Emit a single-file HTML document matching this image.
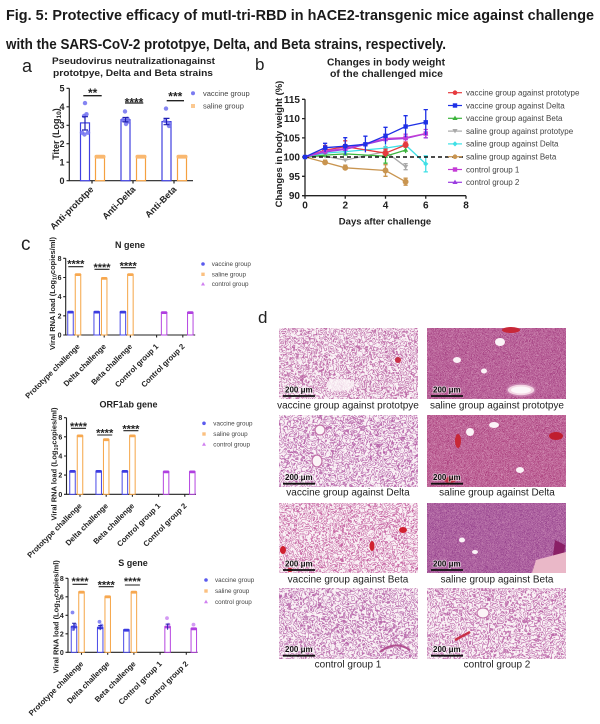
<!DOCTYPE html>
<html><head><meta charset="utf-8">
<style>
html,body{margin:0;padding:0;background:#fff;}
svg{display:block;font-family:"Liberation Sans",Arial,sans-serif;}
</style></head><body>
<svg width="600" height="724" viewBox="0 0 600 724" xmlns="http://www.w3.org/2000/svg">
<defs>
 <filter id="fv1" x="0" y="0" width="1" height="1" color-interpolation-filters="sRGB">
  <feTurbulence type="fractalNoise" baseFrequency="0.13" numOctaves="3" seed="3"/>
  <feColorMatrix type="matrix" values="0 0 0 0 0.70 0 0 0 0 0.32 0 0 0 0 0.60 1 0 0 0 0"/>
  <feComponentTransfer><feFuncA type="table" tableValues="0 .95 0 0 .95 0 0 .95 0 0 .95 0 0 .95 0 0 .95 0 0"/></feComponentTransfer>
 </filter>
 <filter id="fv2" x="0" y="0" width="1" height="1" color-interpolation-filters="sRGB">
  <feTurbulence type="fractalNoise" baseFrequency="0.12" numOctaves="3" seed="11"/>
  <feColorMatrix type="matrix" values="0 0 0 0 0.68 0 0 0 0 0.31 0 0 0 0 0.62 1 0 0 0 0"/>
  <feComponentTransfer><feFuncA type="table" tableValues="0 .95 0 0 .95 0 0 .95 0 0 .95 0 0 .95 0 0 .95 0 0"/></feComponentTransfer>
 </filter>
 <filter id="fv3" x="0" y="0" width="1" height="1" color-interpolation-filters="sRGB">
  <feTurbulence type="fractalNoise" baseFrequency="0.13" numOctaves="3" seed="23"/>
  <feColorMatrix type="matrix" values="0 0 0 0 0.74 0 0 0 0 0.30 0 0 0 0 0.58 1 0 0 0 0"/>
  <feComponentTransfer><feFuncA type="table" tableValues="0 .95 0 0 .95 0 0 .95 0 0 .95 0 0 .95 0 0 .95 0 0"/></feComponentTransfer>
 </filter>
 <filter id="fv4" x="0" y="0" width="1" height="1" color-interpolation-filters="sRGB">
  <feTurbulence type="fractalNoise" baseFrequency="0.12" numOctaves="3" seed="37"/>
  <feColorMatrix type="matrix" values="0 0 0 0 0.68 0 0 0 0 0.32 0 0 0 0 0.62 1 0 0 0 0"/>
  <feComponentTransfer><feFuncA type="table" tableValues="0 .95 0 0 .95 0 0 .95 0 0 .95 0 0 .95 0 0 .95 0 0"/></feComponentTransfer>
 </filter>
 <filter id="fv5" x="0" y="0" width="1" height="1" color-interpolation-filters="sRGB">
  <feTurbulence type="fractalNoise" baseFrequency="0.12" numOctaves="3" seed="41"/>
  <feColorMatrix type="matrix" values="0 0 0 0 0.70 0 0 0 0 0.32 0 0 0 0 0.61 1 0 0 0 0"/>
  <feComponentTransfer><feFuncA type="table" tableValues="0 .95 0 0 .95 0 0 .95 0 0 .95 0 0 .95 0 0 .95 0 0"/></feComponentTransfer>
 </filter>
 <filter id="fs1" x="0" y="0" width="1" height="1" color-interpolation-filters="sRGB">
  <feTurbulence type="fractalNoise" baseFrequency="0.2" numOctaves="3" seed="5"/>
  <feColorMatrix type="matrix" values="0 0 0 0 0.64 0 0 0 0 0.24 0 0 0 0 0.50 1 0 0 0 0"/>
  <feComponentTransfer><feFuncA type="table" tableValues=".35 1 .35 1 .35 1 .35 1 .35 1 .35 1 .35 1 .35 1 .35"/></feComponentTransfer>
 </filter>
 <filter id="fs2" x="0" y="0" width="1" height="1" color-interpolation-filters="sRGB">
  <feTurbulence type="fractalNoise" baseFrequency="0.2" numOctaves="3" seed="17"/>
  <feColorMatrix type="matrix" values="0 0 0 0 0.66 0 0 0 0 0.23 0 0 0 0 0.48 1 0 0 0 0"/>
  <feComponentTransfer><feFuncA type="table" tableValues=".3 1 .3 1 .3 1 .3 1 .3 1 .3 1 .3 1 .3 1 .3"/></feComponentTransfer>
 </filter>
 <filter id="fs3" x="0" y="0" width="1" height="1" color-interpolation-filters="sRGB">
  <feTurbulence type="fractalNoise" baseFrequency="0.22" numOctaves="3" seed="29"/>
  <feColorMatrix type="matrix" values="0 0 0 0 0.58 0 0 0 0 0.25 0 0 0 0 0.55 1 0 0 0 0"/>
  <feComponentTransfer><feFuncA type="table" tableValues=".4 1 .4 1 .4 1 .4 1 .4 1 .4 1 .4 1 .4 1 .4"/></feComponentTransfer>
 </filter>
</defs>
<rect width="600" height="724" fill="#fff"/>

<!-- Main title -->
<g font-weight="bold" font-size="15" fill="#1a1a1a">
 <text x="6" y="20" textLength="588" lengthAdjust="spacingAndGlyphs">Fig. 5: Protective efficacy of mutI-tri-RBD in hACE2-transgenic mice against challenge</text>
 <text x="6" y="49" textLength="440" lengthAdjust="spacingAndGlyphs">with the SARS-CoV-2 prototpye, Delta, and Beta strains, respectively.</text>
</g>

<!-- ============ Panel a ============ -->
<g fill="#222">
 <text x="22" y="72" font-size="18">a</text>
 <text x="133.5" y="64" font-size="9.5" font-weight="bold" text-anchor="middle" textLength="163" lengthAdjust="spacingAndGlyphs">Pseudovirus neutralizationagainst</text>
 <text x="133" y="76" font-size="9.5" font-weight="bold" text-anchor="middle" textLength="160" lengthAdjust="spacingAndGlyphs">prototpye, Delta and Beta strains</text>
</g>
<path d="M69.3 88.3V180.7H193" stroke="#222" stroke-width="1.2" fill="none"/>
<path d="M66.5 88.3H69.3M66.5 106.8H69.3M66.5 125.3H69.3M66.5 143.7H69.3M66.5 162.2H69.3M66.5 180.7H69.3M92 180.7V183.5M133 180.7V183.5M174 180.7V183.5" stroke="#222" stroke-width="1.2"/>
<g font-size="9" font-weight="bold" fill="#222" text-anchor="end">
 <text x="64.5" y="91.5">5</text><text x="64.5" y="110">4</text><text x="64.5" y="128.5">3</text>
 <text x="64.5" y="147">2</text><text x="64.5" y="165.4">1</text><text x="64.5" y="184">0</text>
</g>
<text transform="translate(59,134) rotate(-90)" font-size="9" font-weight="bold" fill="#222" text-anchor="middle">Titer (Log<tspan font-size="6.5" dy="2">10</tspan><tspan dy="-2">)</tspan></text>
<g fill="#fff" stroke-width="1.2">
 <rect x="80.5" y="122.9" width="9" height="57.8" stroke="#4040e0"/>
 <rect x="121" y="119.7" width="9" height="61" stroke="#4040e0"/>
 <rect x="162" y="121.6" width="9" height="59.1" stroke="#4040e0"/>
 <rect x="95.5" y="156.7" width="9" height="24" stroke="#f5a040"/>
 <rect x="136.5" y="156.7" width="9" height="24" stroke="#f5a040"/>
 <rect x="177.5" y="156.7" width="9" height="24" stroke="#f5a040"/>
</g>
<g fill="#f9b870">
 <rect x="94.5" y="154.8" width="11" height="3.8" rx="1.8"/>
 <rect x="135.5" y="154.8" width="11" height="3.8" rx="1.8"/>
 <rect x="176.5" y="154.8" width="11" height="3.8" rx="1.8"/>
</g>
<g fill="#7070f0" fill-opacity="0.85">
 <circle cx="85" cy="103.1" r="2.2"/><circle cx="86.5" cy="114.2" r="2.2"/><circle cx="84" cy="116" r="2.2"/>
 <circle cx="82" cy="132.7" r="2.2"/><circle cx="88" cy="132.7" r="2.2"/><circle cx="84.5" cy="134.5" r="2.2"/>
 <circle cx="125" cy="111.4" r="2.2"/><circle cx="127.5" cy="118.8" r="2.2"/><circle cx="123" cy="120" r="2.2"/>
 <circle cx="128" cy="121.6" r="2.2"/><circle cx="126" cy="124" r="2.2"/>
 <circle cx="166" cy="108.6" r="2.2"/><circle cx="165" cy="121" r="2.2"/><circle cx="168" cy="123" r="2.2"/><circle cx="169" cy="126" r="2.2"/>
</g>
<path d="M85 116.7V130M82 116.7H88M82 130H88M125.5 117.5V121.9M122.5 117.5H128.5M122.5 121.9H128.5M166.5 118.4V124.7M163.5 118.4H169.5M163.5 124.7H169.5" stroke="#2020b0" stroke-width="1.2"/>
<path d="M83.3 95.7H101.7M125 103H143.3M166.7 100.7H184" stroke="#222" stroke-width="1.3"/>
<g font-size="12" font-weight="bold" fill="#222" text-anchor="middle">
 <text x="92.7" y="97.2">**</text><text x="134" y="106.3">****</text><text x="175.3" y="100.5">***</text>
</g>
<circle cx="193" cy="93.3" r="2" fill="#7a7af0"/>
<rect x="191" y="104" width="4" height="4" fill="#fbc890"/>
<g font-size="7.5" fill="#444"><text x="203" y="96">vaccine group</text><text x="203" y="108.7">saline group</text></g>
<g font-size="9" font-weight="bold" fill="#222" text-anchor="end">
 <text transform="translate(94,190) rotate(-45)">Anti-prototpe</text>
 <text transform="translate(136,190) rotate(-45)">Anti-Delta</text>
 <text transform="translate(177,190) rotate(-45)">Anti-Beta</text>
</g>

<!-- ============ Panel b ============ -->
<g fill="#222">
 <text x="255" y="70" font-size="17">b</text>
 <text x="386" y="65.5" font-size="10" font-weight="bold" text-anchor="middle" textLength="118" lengthAdjust="spacingAndGlyphs">Changes in body weight</text>
 <text x="386.5" y="77" font-size="10" font-weight="bold" text-anchor="middle" textLength="113" lengthAdjust="spacingAndGlyphs">of the challenged mice</text>
</g>
<path d="M305 99.3V195.7H466" stroke="#222" stroke-width="1.3" fill="none"/>
<path d="M302 99.3H305M302 118.6H305M302 137.9H305M302 157H305M302 176.3H305M302 195.7H305M305 195.7V198.7M345.25 195.7V198.7M385.5 195.7V198.7M425.75 195.7V198.7M466 195.7V198.7" stroke="#222" stroke-width="1.3"/>
<g font-size="10" font-weight="bold" fill="#222" text-anchor="end">
 <text x="300" y="102.8">115</text><text x="300" y="122.1">110</text><text x="300" y="141.4">105</text>
 <text x="300" y="160.5">100</text><text x="300" y="179.8">95</text><text x="300" y="199.2">90</text>
</g>
<g font-size="10" font-weight="bold" fill="#222" text-anchor="middle">
 <text x="305" y="208.5">0</text><text x="345.25" y="208.5">2</text><text x="385.5" y="208.5">4</text><text x="425.75" y="208.5">6</text><text x="466" y="208.5">8</text>
 <text x="385" y="224.5" font-size="9.5">Days after challenge</text>
</g>
<text transform="translate(282,144) rotate(-90)" font-size="9.5" font-weight="bold" fill="#222" text-anchor="middle">Changes in body weight (%)</text>

<g fill="none" stroke-width="1.3">
 <g stroke="#c99550" fill="#c99550">
  <polyline fill="none" points="305,157 325.1,162.4 345.25,167.8 385.5,170.5 405.6,181.7"/>
  <path d="M325.1 160.1V164.7M323 160.1H327.2M345.25 165.1V170.5M343.2 165.1H347.3M385.5 164.7V176.3M383.4 164.7H387.6M383.4 176.3H387.6M405.6 178.2V185.2M403.5 178.2H407.7M403.5 185.2H407.7" fill="none"/>
  <circle cx="325.1" cy="162.4" r="2.3"/><circle cx="345.25" cy="167.8" r="2.3"/><circle cx="385.5" cy="170.5" r="2.3"/><circle cx="405.6" cy="181.7" r="2.3"/>
 </g>
 <g stroke="#a9a9a9" fill="#a9a9a9">
  <polyline fill="none" points="305,157 325.1,156.2 345.25,160.1 385.5,151.6 405.6,166.7"/>
  <path d="M385.5 146.6V156.6M383.4 146.6H387.6M405.6 163.7V169.7M403.5 163.7H407.7M403.5 169.7H407.7" fill="none"/>
  <path d="M322.5 154.5H327.7L325.1 158.7Z M342.65 158.4H347.85L345.25 162.6Z M382.9 149.9H388.1L385.5 154.1Z M403 165H408.2L405.6 169.2Z" stroke="none"/>
 </g>
 <g stroke="#3cb43c" fill="#3cb43c">
  <polyline fill="none" points="305,157 325.1,155.1 345.25,153.9 385.5,156.2 405.6,150.1"/>
  <path d="M385.5 149.2V163.2M383.4 163.2H387.6M405.6 147.1V153.1M403.5 147.1H407.7" fill="none"/>
  <path d="M325.1 152.4L327.7 156.8H322.5Z M345.25 151.2L347.85 155.6H342.65Z M385.5 153.5L388.1 157.9H382.9Z M405.6 147.4L408.2 151.8H403Z" stroke="none"/>
 </g>
 <g stroke="#3fe0e6" fill="#3fe0e6">
  <polyline fill="none" points="305,157 325.1,153.1 345.25,151.6 385.5,148.1 405.6,145 425.75,163.9"/>
  <path d="M385.5 144.1V152.1M405.6 142V148M425.75 155.9V171.9M423.6 155.9H427.9M423.6 171.9H427.9" fill="none"/>
  <path d="M325.1 150.5L327.7 153.1L325.1 155.7L322.5 153.1Z M345.25 149L347.85 151.6L345.25 154.2L342.65 151.6Z M385.5 145.5L388.1 148.1L385.5 150.7L382.9 148.1Z M405.6 142.4L408.2 145L405.6 147.6L403 145Z M425.75 161.3L428.35 163.9L425.75 166.5L423.15 163.9Z" stroke="none"/>
 </g>
 <path d="M305 157H466" stroke="#111" stroke-width="1.4" stroke-dasharray="4 3"/>
 <g stroke="#e63a3e" fill="#e63a3e">
  <polyline fill="none" points="305,157 325.1,150.1 345.25,146.6 385.5,153.1 405.6,145"/>
  <path d="M325.1 145.5V154.7M323 145.5H327.2M345.25 140.8V152.4M343.2 140.8H347.3M385.5 149.2V157M383.4 149.2H387.6M405.6 142V148M403.5 142H407.7" fill="none"/>
  <circle cx="325.1" cy="150.1" r="2.4"/><circle cx="345.25" cy="146.6" r="2.4"/><circle cx="385.5" cy="153.1" r="2.4"/><circle cx="405.6" cy="145" r="2.4"/>
 </g>
 <g stroke="#9b3de0" fill="#9b3de0">
  <polyline fill="none" points="305,157 325.1,152 345.25,149.3 385.5,139.6 405.6,138.5 425.75,133.8"/>
  <path d="M425.75 129.8V137.8M423.6 137.8H427.9" fill="none"/>
  <path d="M325.1 149.3L327.7 153.7H322.5Z M345.25 146.6L347.85 151H342.65Z M385.5 136.9L388.1 141.3H382.9Z M405.6 135.8L408.2 140.2H403Z M425.75 131.1L428.35 135.5H423.15Z" stroke="none"/>
 </g>
 <g stroke="#c43cd6" fill="#c43cd6">
  <polyline fill="none" points="305,157 325.1,150.8 345.25,148.5 385.5,138.5 405.6,137.7 425.75,133.5"/>
  <path d="M385.5 134.5V142.5M383.4 134.5H387.6M405.6 134.2V141.2M403.5 134.2H407.7M425.75 129.5V137.5M423.6 129.5H427.9" fill="none"/>
  <rect x="322.9" y="148.6" width="4.4" height="4.4" stroke="none"/><rect x="343.05" y="146.3" width="4.4" height="4.4" stroke="none"/>
  <rect x="383.3" y="136.3" width="4.4" height="4.4" stroke="none"/><rect x="403.4" y="135.5" width="4.4" height="4.4" stroke="none"/>
  <rect x="423.55" y="131.3" width="4.4" height="4.4" stroke="none"/>
 </g>
 <g stroke="#1e30e6" fill="#1e30e6">
  <polyline fill="none" points="305,157 325.1,147.7 345.25,146.2 365.4,144.3 385.5,135.8 405.6,126.5 425.75,122.3"/>
  <path d="M325.1 143.3V152.1M323 143.3H327.2M345.25 137.7V154.7M343.2 137.7H347.3M365.4 136.2V152.4M363.3 136.2H367.5M385.5 127.3V144.3M383.4 127.3H387.6M405.6 115.7V137.3M403.5 115.7H407.7M425.75 109.6V135M423.6 109.6H427.9" fill="none"/>
  <rect x="323" y="145.5" width="4.4" height="4.4" stroke="none"/><rect x="343.05" y="144" width="4.4" height="4.4" stroke="none"/>
  <rect x="363.2" y="142.1" width="4.4" height="4.4" stroke="none"/><rect x="383.3" y="133.6" width="4.4" height="4.4" stroke="none"/>
  <rect x="403.4" y="124.3" width="4.4" height="4.4" stroke="none"/><rect x="423.55" y="120.1" width="4.4" height="4.4" stroke="none"/>
 </g>
 <rect x="302.8" y="154.8" width="4.4" height="4.4" fill="#1e30e6" stroke="none"/>
</g>
<g stroke-width="1.2">
 <path d="M448 92.7H462" stroke="#e63a3e"/><circle cx="455" cy="92.7" r="2.3" fill="#e63a3e"/>
 <path d="M448 105.5H462" stroke="#1e30e6"/><rect x="452.8" y="103.3" width="4.4" height="4.4" fill="#1e30e6"/>
 <path d="M448 118.3H462" stroke="#3cb43c"/><path d="M455 115.6L457.6 120H452.4Z" fill="#3cb43c"/>
 <path d="M448 131.1H462" stroke="#a9a9a9"/><path d="M452.4 129H457.6L455 133.4Z" fill="#a9a9a9"/>
 <path d="M448 143.9H462" stroke="#3fe0e6"/><path d="M455 141.3L457.6 143.9L455 146.5L452.4 143.9Z" fill="#3fe0e6"/>
 <path d="M448 156.7H462" stroke="#c99550"/><circle cx="455" cy="156.7" r="2.3" fill="#c99550"/>
 <path d="M448 169.5H462" stroke="#c43cd6"/><rect x="452.8" y="167.3" width="4.4" height="4.4" fill="#c43cd6"/>
 <path d="M448 182.3H462" stroke="#9b3de0"/><path d="M455 179.6L457.6 184H452.4Z" fill="#9b3de0"/>
</g>
<g font-size="8" fill="#444">
 <text x="466" y="95.5">vaccine group against prototype</text>
 <text x="466" y="108.3">vaccine group against Delta</text>
 <text x="466" y="121.1">vaccine group against Beta</text>
 <text x="466" y="133.9">saline group against prototype</text>
 <text x="466" y="146.7">saline group against Delta</text>
 <text x="466" y="159.5">saline group against Beta</text>
 <text x="466" y="172.3">control group 1</text>
 <text x="466" y="185.1">control group 2</text>
</g>

<!-- ============ Panel c ============ -->
<text x="21" y="250" font-size="19" fill="#222">c</text>

<text x="130" y="248" font-size="9" font-weight="bold" fill="#222" text-anchor="middle">N gene</text>
<path d="M65.7 258.3V335H195.2" stroke="#222" stroke-width="1.1" fill="none"/>
<path d="M63.2 258.3H65.7M63.2 277.5H65.7M63.2 296.7H65.7M63.2 315.8H65.7M63.2 335H65.7M78 335V337.5M104.2 335V337.5M130.4 335V337.5M156.6 335V337.5M182.8 335V337.5" stroke="#222" stroke-width="1.1"/>
<g font-size="7" font-weight="bold" fill="#222" text-anchor="end">
 <text x="61.5" y="260.8">8</text><text x="61.5" y="280">6</text><text x="61.5" y="299.2">4</text><text x="61.5" y="318.3">2</text><text x="61.5" y="337.5">0</text>
</g>
<text transform="translate(55,293.5) rotate(-90)" font-size="7.5" font-weight="bold" fill="#222" text-anchor="middle">Viral RNA load (Log<tspan font-size="5.3" dy="1.5">10</tspan><tspan dy="-1.5">copies/ml)</tspan></text>
<g fill="#fff" stroke-width="1">
 <rect x="67.75" y="312" width="5.5" height="23" stroke="#4a4ae6"/>
 <rect x="93.95" y="312" width="5.5" height="23" stroke="#4a4ae6"/>
 <rect x="120.15" y="312" width="5.5" height="23" stroke="#4a4ae6"/>
 <rect x="75.25" y="274.6" width="5.5" height="60.4" stroke="#f5a546"/>
 <rect x="101.45" y="278.4" width="5.5" height="56.6" stroke="#f5a546"/>
 <rect x="127.65" y="274.6" width="5.5" height="60.4" stroke="#f5a546"/>
 <rect x="161.35" y="312.5" width="5.5" height="22.5" stroke="#b545e0"/>
 <rect x="187.55" y="312.5" width="5.5" height="22.5" stroke="#b545e0"/>
</g>
<g>
 <rect x="67.3" y="310.7" width="6.4" height="2.8" rx="1.2" fill="#3c3ce0"/><rect x="93.5" y="310.7" width="6.4" height="2.8" rx="1.2" fill="#3c3ce0"/><rect x="119.7" y="310.7" width="6.4" height="2.8" rx="1.2" fill="#3c3ce0"/>
 <rect x="74.8" y="273.2" width="6.4" height="2.8" rx="1.2" fill="#f7a850"/><rect x="101" y="277" width="6.4" height="2.8" rx="1.2" fill="#f7a850"/><rect x="127.2" y="273.2" width="6.4" height="2.8" rx="1.2" fill="#f7a850"/>
 <rect x="160.9" y="311.2" width="6.4" height="2.8" rx="1.2" fill="#b040e0"/><rect x="187.1" y="311.2" width="6.4" height="2.8" rx="1.2" fill="#b040e0"/>
</g>
<path d="M68.3 266.7H83.3M94.5 269.3H109.5M120.7 267.7H135.7" stroke="#222" stroke-width="1.1"/>
<g font-size="11" font-weight="bold" fill="#222" text-anchor="middle">
 <text x="75.8" y="267.6">****</text><text x="102" y="271.1">****</text><text x="128.2" y="269.6">****</text>
</g>
<circle cx="203" cy="264" r="1.8" fill="#5a5aee"/><rect x="201.3" y="272.6" width="3.4" height="3.4" fill="#fbc080"/><path d="M203 282L205 285.5H201Z" fill="#d07ff0"/>
<g font-size="6.3" fill="#444"><text x="211.7" y="266.2">vaccine group</text><text x="211.7" y="276.5">saline group</text><text x="211.7" y="286.2">control group</text></g>
<g font-size="7.7" font-weight="bold" fill="#222" text-anchor="end">
 <text transform="translate(80.3,347) rotate(-45)">Prototype challenge</text>
 <text transform="translate(106.5,347) rotate(-45)">Delta challenge</text>
 <text transform="translate(132.7,347) rotate(-45)">Beta challenge</text>
 <text transform="translate(158.9,347) rotate(-45)">Control group 1</text>
 <text transform="translate(185.1,347) rotate(-45)">Control group 2</text>
</g>

<text x="128.5" y="407.5" font-size="9" font-weight="bold" fill="#222" text-anchor="middle">ORF1ab gene</text>
<path d="M66.5 417.7V494.3H196" stroke="#222" stroke-width="1.1" fill="none"/>
<path d="M64 417.7H66.5M64 436.8H66.5M64 456H66.5M64 475.1H66.5M64 494.3H66.5M80 494.3V496.8M106.2 494.3V496.8M132.4 494.3V496.8M158.6 494.3V496.8M184.8 494.3V496.8" stroke="#222" stroke-width="1.1"/>
<g font-size="7" font-weight="bold" fill="#222" text-anchor="end">
 <text x="62.3" y="420.2">8</text><text x="62.3" y="439.3">6</text><text x="62.3" y="458.5">4</text><text x="62.3" y="477.6">2</text><text x="62.3" y="496.8">0</text>
</g>
<text transform="translate(56.3,464) rotate(-90)" font-size="7.5" font-weight="bold" fill="#222" text-anchor="middle">Viral RNA load (Log<tspan font-size="5.3" dy="1.5">10</tspan><tspan dy="-1.5">copies/ml)</tspan></text>
<g fill="#fff" stroke-width="1">
 <rect x="69.75" y="471.3" width="5.5" height="23" stroke="#4a4ae6"/>
 <rect x="95.95" y="471.3" width="5.5" height="23" stroke="#4a4ae6"/>
 <rect x="122.15" y="471.3" width="5.5" height="23" stroke="#4a4ae6"/>
 <rect x="77.25" y="435.9" width="5.5" height="58.4" stroke="#f5a546"/>
 <rect x="103.45" y="439.7" width="5.5" height="54.6" stroke="#f5a546"/>
 <rect x="129.65" y="435.9" width="5.5" height="58.4" stroke="#f5a546"/>
 <rect x="163.35" y="471.8" width="5.5" height="22.5" stroke="#b545e0"/>
 <rect x="189.55" y="471.8" width="5.5" height="22.5" stroke="#b545e0"/>
</g>
<g>
 <rect x="69.3" y="470" width="6.4" height="2.8" rx="1.2" fill="#3c3ce0"/><rect x="95.5" y="470" width="6.4" height="2.8" rx="1.2" fill="#3c3ce0"/><rect x="121.7" y="470" width="6.4" height="2.8" rx="1.2" fill="#3c3ce0"/>
 <rect x="76.8" y="434.5" width="6.4" height="2.8" rx="1.2" fill="#f7a850"/><rect x="103" y="438.3" width="6.4" height="2.8" rx="1.2" fill="#f7a850"/><rect x="129.2" y="434.5" width="6.4" height="2.8" rx="1.2" fill="#f7a850"/>
 <rect x="162.9" y="470.5" width="6.4" height="2.8" rx="1.2" fill="#b040e0"/><rect x="189.1" y="470.5" width="6.4" height="2.8" rx="1.2" fill="#b040e0"/>
</g>
<path d="M71 428.3H86M97.2 435H112.2M123.4 430.7H138.4" stroke="#222" stroke-width="1.1"/>
<g font-size="11" font-weight="bold" fill="#222" text-anchor="middle">
 <text x="78.5" y="429.9">****</text><text x="104.7" y="436.6">****</text><text x="130.9" y="432.3">****</text>
</g>
<circle cx="204" cy="423.3" r="1.8" fill="#5a5aee"/><rect x="202.3" y="432.3" width="3.4" height="3.4" fill="#fbc080"/><path d="M204 442.3L206 445.8H202Z" fill="#d07ff0"/>
<g font-size="6.3" fill="#444"><text x="213.3" y="425.5">vaccine group</text><text x="213.3" y="436.2">saline group</text><text x="213.3" y="446.5">control group</text></g>
<g font-size="7.7" font-weight="bold" fill="#222" text-anchor="end">
 <text transform="translate(82.3,506.3) rotate(-45)">Prototype challenge</text>
 <text transform="translate(108.5,506.3) rotate(-45)">Delta challenge</text>
 <text transform="translate(134.7,506.3) rotate(-45)">Beta challenge</text>
 <text transform="translate(160.9,506.3) rotate(-45)">Control group 1</text>
 <text transform="translate(187.1,506.3) rotate(-45)">Control group 2</text>
</g>

<text x="133" y="566" font-size="9" font-weight="bold" fill="#222" text-anchor="middle">S gene</text>
<path d="M68 578.3V652.3H197.5" stroke="#222" stroke-width="1.1" fill="none"/>
<path d="M65.5 578.3H68M65.5 596.8H68M65.5 615.3H68M65.5 633.8H68M65.5 652.3H68M81.5 652.3V654.8M107.7 652.3V654.8M133.9 652.3V654.8M160.1 652.3V654.8M186.3 652.3V654.8" stroke="#222" stroke-width="1.1"/>
<g font-size="7" font-weight="bold" fill="#222" text-anchor="end">
 <text x="63.8" y="580.8">8</text><text x="63.8" y="599.3">6</text><text x="63.8" y="617.8">4</text><text x="63.8" y="636.3">2</text><text x="63.8" y="654.8">0</text>
</g>
<text transform="translate(58.5,616.7) rotate(-90)" font-size="7.5" font-weight="bold" fill="#222" text-anchor="middle">Viral RNA load (Log<tspan font-size="5.3" dy="1.5">10</tspan><tspan dy="-1.5">copies/ml)</tspan></text>
<g fill="#fff" stroke-width="1">
 <rect x="71.25" y="626.9" width="5.5" height="25.4" stroke="#4a4ae6"/>
 <rect x="97.45" y="627.8" width="5.5" height="24.5" stroke="#4a4ae6"/>
 <rect x="123.65" y="630.1" width="5.5" height="22.2" stroke="#4a4ae6"/>
 <rect x="78.75" y="592.2" width="5.5" height="60.1" stroke="#f5a546"/>
 <rect x="104.95" y="596.8" width="5.5" height="55.5" stroke="#f5a546"/>
 <rect x="131.15" y="592.2" width="5.5" height="60.1" stroke="#f5a546"/>
 <rect x="164.85" y="626.9" width="5.5" height="25.4" stroke="#b545e0"/>
 <rect x="191.05" y="628.7" width="5.5" height="23.6" stroke="#b545e0"/>
</g>
<g>
 <rect x="70.8" y="625.6" width="6.4" height="2.8" rx="1.2" fill="#3c3ce0"/><rect x="97" y="626.5" width="6.4" height="2.8" rx="1.2" fill="#3c3ce0"/><rect x="123.2" y="628.8" width="6.4" height="2.8" rx="1.2" fill="#3c3ce0"/>
 <rect x="78.3" y="590.8" width="6.4" height="2.8" rx="1.2" fill="#f7a850"/><rect x="104.5" y="595.4" width="6.4" height="2.8" rx="1.2" fill="#f7a850"/><rect x="130.7" y="590.8" width="6.4" height="2.8" rx="1.2" fill="#f7a850"/>
 <rect x="164.4" y="625.6" width="6.4" height="2.8" rx="1.2" fill="#b040e0"/><rect x="190.6" y="627.4" width="6.4" height="2.8" rx="1.2" fill="#b040e0"/>
</g>
<g fill-opacity="0.8">
 <circle cx="72.5" cy="612.5" r="1.9" fill="#6a6af0"/><circle cx="75" cy="624.6" r="1.9" fill="#6a6af0"/><circle cx="73" cy="629" r="1.9" fill="#6a6af0"/>
 <circle cx="99.5" cy="621.8" r="1.9" fill="#6a6af0"/><circle cx="101.5" cy="625.5" r="1.9" fill="#6a6af0"/>
 <circle cx="167" cy="618.1" r="1.9" fill="#c880f0"/><circle cx="168.5" cy="624.6" r="1.9" fill="#c880f0"/>
 <circle cx="193.5" cy="624.6" r="1.9" fill="#c880f0"/>
</g>
<path d="M74 623.2V630.6M72 623.2H76M100.2 625.5V630.1M98.2 625.5H102.2M167.6 624.1V629.7M165.6 624.1H169.6" stroke="#2a2ab0" stroke-width="1"/>
<path d="M72.5 584.3H87.5M98.7 586.7H113.7M124.9 585H139.9" stroke="#222" stroke-width="1.1"/>
<g font-size="11" font-weight="bold" fill="#222" text-anchor="middle">
 <text x="80" y="584.9">****</text><text x="106.2" y="588.3">****</text><text x="132.4" y="584.9">****</text>
</g>
<circle cx="206" cy="580" r="1.8" fill="#5a5aee"/><rect x="204.3" y="589.3" width="3.4" height="3.4" fill="#fbc080"/><path d="M206 599.7L208 603.2H204Z" fill="#d07ff0"/>
<g font-size="6.3" fill="#444"><text x="215" y="582.2">vaccine group</text><text x="215" y="593.2">saline group</text><text x="215" y="603.9">control group</text></g>
<g font-size="7.7" font-weight="bold" fill="#222" text-anchor="end">
 <text transform="translate(83.8,664.3) rotate(-45)">Prototype challenge</text>
 <text transform="translate(110,664.3) rotate(-45)">Delta challenge</text>
 <text transform="translate(136.2,664.3) rotate(-45)">Beta challenge</text>
 <text transform="translate(162.4,664.3) rotate(-45)">Control group 1</text>
 <text transform="translate(188.6,664.3) rotate(-45)">Control group 2</text>
</g>

<!-- ============ Panel d ============ -->
<text x="258" y="323" font-size="17" fill="#222">d</text>

<rect x="279" y="328" width="139" height="71" fill="#faf2f6"/>
<rect x="279" y="328" width="139" height="71" filter="url(#fv1)"/>
<ellipse cx="340" cy="385" rx="14" ry="6" fill="#fcf6f9" opacity="0.8"/>
<circle cx="398" cy="360" r="3" fill="#c83048"/>

<rect x="427" y="328" width="139" height="71" fill="#e6b2ce"/>
<rect x="427" y="328" width="139" height="71" filter="url(#fs1)"/>
<ellipse cx="511" cy="330" rx="9" ry="3" fill="#c82838"/>
<ellipse cx="500" cy="342" rx="5" ry="4" fill="#fbf3f7"/>
<ellipse cx="457" cy="360" rx="4" ry="3" fill="#fbf3f7"/>
<ellipse cx="484" cy="371" rx="3" ry="2.5" fill="#fbf3f7"/>
<ellipse cx="521" cy="390" rx="14" ry="6" fill="#f3d6e4" stroke="#c884b0" stroke-width="1.5"/>
<ellipse cx="521" cy="390" rx="10" ry="3.5" fill="#fdf7fa"/>

<rect x="279" y="415" width="139" height="72" fill="#faf2f6"/>
<rect x="279" y="415" width="139" height="72" filter="url(#fv2)"/>
<circle cx="320" cy="430" r="5" fill="#fbf4f7" stroke="#c070a8" stroke-width="1.2"/>
<ellipse cx="317" cy="461" rx="5" ry="6" fill="#fbf4f7" stroke="#c070a8" stroke-width="1.2"/>

<rect x="427" y="415" width="139" height="72" fill="#e6b2ce"/>
<rect x="427" y="415" width="139" height="72" filter="url(#fs2)"/>
<ellipse cx="556" cy="436" rx="7" ry="4" fill="#c01e30"/>
<ellipse cx="458" cy="441" rx="3" ry="7" fill="#c82838"/>
<ellipse cx="470" cy="432" rx="4" ry="4" fill="#fbf3f7"/>
<ellipse cx="494" cy="425" rx="5" ry="3" fill="#fbf3f7"/>
<ellipse cx="450" cy="480" rx="6" ry="3" fill="#c03048"/>
<ellipse cx="520" cy="470" rx="4" ry="3" fill="#fbf3f7"/>

<rect x="279" y="503" width="139" height="70" fill="#faf2f6"/>
<rect x="279" y="503" width="139" height="70" filter="url(#fv3)"/>
<ellipse cx="403" cy="530" rx="4" ry="3" fill="#d02030"/>
<ellipse cx="372" cy="546" rx="2.5" ry="5" fill="#d02030"/>
<ellipse cx="283" cy="550" rx="3" ry="4" fill="#d02030"/>
<ellipse cx="290" cy="570" rx="3" ry="2" fill="#d02030"/>

<rect x="427" y="503" width="139" height="70" fill="#e4aecc"/>
<rect x="427" y="503" width="139" height="70" filter="url(#fs3)"/>
<path d="M555 540L565 545L564 560L553 556Z" fill="#8a2066"/>
<path d="M536 560L566 552V573H532Z" fill="#eab8c8"/>
<ellipse cx="462" cy="540" rx="3" ry="2.5" fill="#fbf3f7"/>
<ellipse cx="475" cy="552" rx="3" ry="2" fill="#fbf3f7"/>

<rect x="279" y="588" width="139" height="71" fill="#faf2f6"/>
<rect x="279" y="588" width="139" height="71" filter="url(#fv4)"/>
<path d="M380 652Q395 640 410 650" stroke="#b05090" stroke-width="2" fill="none"/>

<rect x="427" y="588" width="139" height="71" fill="#faf2f6"/>
<rect x="427" y="588" width="139" height="71" filter="url(#fv5)"/>
<ellipse cx="483" cy="613" rx="6" ry="5" fill="#fbf4f7" stroke="#c070a8" stroke-width="1"/>
<path d="M455 640L470 632" stroke="#c83048" stroke-width="2.5"/>

<g stroke="#111" stroke-width="1.8">
 <path d="M283 396H315M431 396H463M283 483.7H315M431 483.7H463M283 570H315M431 570H463M283 655.7H315M431 655.7H463"/>
</g>
<g font-size="8" font-weight="bold" fill="#111" stroke="#fff" stroke-width="1.5" paint-order="stroke" stroke-opacity="0.6">
 <text x="285" y="392.5">200 μm</text><text x="433" y="392.5">200 μm</text>
 <text x="285" y="480.2">200 μm</text><text x="433" y="480.2">200 μm</text>
 <text x="285" y="566.5">200 μm</text><text x="433" y="566.5">200 μm</text>
 <text x="285" y="652.2">200 μm</text><text x="433" y="652.2">200 μm</text>
</g>

<g font-size="10" fill="#222" text-anchor="middle">
 <text x="348" y="408.5">vaccine group against prototpye</text>
 <text x="497" y="408.5">saline group against prototpye</text>
 <text x="348" y="495.7">vaccine group against Delta</text>
 <text x="497" y="495.7">saline group against Delta</text>
 <text x="348" y="582.5">vaccine group against Beta</text>
 <text x="497" y="582.5">saline group against Beta</text>
 <text x="348" y="667.3">control group 1</text>
 <text x="497" y="667.3">control group 2</text>
</g>
</svg>
</body></html>
